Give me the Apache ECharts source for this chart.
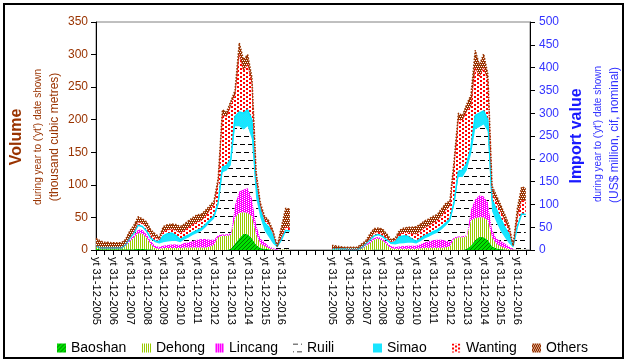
<!DOCTYPE html>
<html><head><meta charset="utf-8">
<script src="https://cdn.jsdelivr.net/npm/echarts@6/dist/echarts.min.js"></script>
<style>html,body{margin:0;padding:0;background:#fff}#c{width:628px;height:362px}</style>
</head><body><div id="c"></div>
<script>
// ---- DATA ----
const seriesNames = ['Baoshan','Dehong','Lincang','Ruili','Simao','Wanting','Others'];
// quarter-end periods of each panel (yt 31-12-2005 ... yt 30-06-2017)
const quarterEnds = ['31-12','31-03','30-06','30-09'];
const firstYear = 2005, pointsPerPanel = 47, gapCount = 9, tailCount = 1;
const leftTicks = [0,50,100,150,200,250,300,350];
const rightTicks = [0,50,100,150,200,250,300,350,400,450,500];

// Volume (thousand cubic metres), left panel
const volBaoshan = [2,1,1,1,1,1,1,1,1,1,2,2,1,1,0,0,0,0,0,0,0,0,0,0,0,0,0,0,0,0,0,0,2,10,18,25,24,18,8,3,2,1,0,0,0,0,0];
const volDehong  = [4,2,2,2,2,2,2,5,12,18,24,23,18,8,3,2,3,3,3,3,3,4,4,4,4,4,4,5,8,20,22,22,21,40,39,33,33,34,17,7,4,2,1,0,1,1,1];
const volLincang = [0,0,0,0,0,0,0,2,3,4,6,6,5,5,4,3,4,5,6,6,5,7,8,10,12,13,13,11,8,3,2,2,3,20,33,35,38,28,15,8,6,3,2,1,0,0,0];
const volRuili   = [0,0,0,0,0,0,0,0,2,3,6,5,5,4,5,5,5,5,5,5,4,5,7,9,10,12,18,26,32,45,95,98,104,120,100,92,95,90,40,32,18,14,7,3,15,29,28];
const volSimao   = [0,0,0,0,0,0,0,0,0,0,0,0,0,0,2,3,10,12,12,8,4,4,4,4,4,4,4,4,4,5,8,8,10,15,22,25,25,30,20,12,12,15,12,1,0,0,0];
const volWanting = [0,0,0,0,0,0,0,0,1,2,5,5,6,5,5,3,6,6,6,8,10,10,12,13,13,12,13,15,18,30,80,75,82,33,88,65,70,55,12,6,5,5,4,0,4,5,5];
const volOthers  = [12,11,9,9,8,8,8,8,10,10,8,7,8,8,6,4,8,8,8,9,10,10,10,10,11,10,9,7,5,7,8,7,6,7,18,17,15,10,8,4,5,5,4,1,15,29,29];

// Import value (US$ million, cif, nominal), right panel
const valBaoshan = [1,1,1,1,0,0,0,0,0,0,1,1,1,0,0,0,0,0,0,0,0,0,0,0,0,0,0,0,0,0,0,0,3,10,22,29,28,22,8,4,2,1,0,0,0,0,0];
const valDehong  = [2,2,1,1,1,1,1,3,8,15,22,24,20,12,4,3,3,3,3,3,3,4,5,5,5,5,5,6,8,25,28,28,27,55,48,43,44,43,20,10,6,4,2,1,1,1,1];
const valLincang = [0,0,0,0,0,0,0,2,3,4,4,4,4,5,5,4,5,6,7,7,7,9,12,14,17,18,18,15,10,3,2,2,3,25,42,48,46,40,17,12,12,10,6,2,0,0,0];
const valRuili   = [0,0,0,0,0,0,0,0,2,3,4,5,5,5,4,5,6,6,6,6,4,6,8,10,12,15,22,32,45,70,130,130,142,120,153,150,157,155,40,36,22,13,7,3,50,78,77];
const valSimao   = [0,0,0,0,0,0,0,0,0,0,0,0,0,0,2,6,15,16,14,8,5,6,6,6,6,6,6,6,5,8,12,15,15,15,30,30,30,25,25,28,28,22,20,2,0,0,0];
const valWanting = [0,0,0,0,0,0,0,0,0,3,6,6,6,5,3,3,6,7,8,12,16,16,18,18,20,20,24,28,28,80,113,110,115,90,105,80,95,85,15,15,15,15,10,1,20,30,30];
const valOthers  = [7,6,5,4,5,5,5,8,7,10,10,8,10,8,5,5,8,10,12,14,16,16,15,15,14,14,15,15,12,10,15,10,15,25,38,25,30,15,15,15,15,13,10,1,20,29,28];

// ---- build categories ----
const panelPeriods = [];
for (let k = 0; k < pointsPerPanel; k++) {
  const q = k % 4;
  const yr = firstYear + Math.floor((k + 3) / 4);
  panelPeriods.push('yt ' + quarterEnds[q] + '-' + yr);
}
const blanks = n => Array.from({length:n}, (_, i) => ' '.repeat(i + 1));
const categories = panelPeriods.concat(blanks(gapCount)).concat(panelPeriods.map(s => s + ' ')).concat(blanks(gapCount + tailCount).slice(gapCount));
const nulls = n => Array(n).fill(null);
const leftData = arr => arr.concat(nulls(categories.length - arr.length));
const rightData = arr => nulls(pointsPerPanel + gapCount).concat(arr).concat(nulls(tailCount));

// ---- patterns ----
function pat(w, h, bg, fg, rects) {
  const c = document.createElement('canvas'); c.width = w; c.height = h;
  const g = c.getContext('2d'); g.fillStyle = bg; g.fillRect(0, 0, w, h);
  g.fillStyle = fg; rects.forEach(r => g.fillRect(r[0], r[1], r[2] || 1, r[3] || 1));
  return {image: c, repeat: 'repeat'};
}
const patterns = {
  Baoshan: pat(4,4,'#00E000','#007A00',[[3,0],[2,1],[1,2],[0,3]]),
  Dehong: pat(2,1,'#FFFFFF','#99CC00',[[0,0]]),
  Lincang: pat(4,2,'#FF00FF','#FFFFFF',[[0,0],[2,1]]),
  Ruili: pat(8,16,'#FFFFFF','#000000',[[0,0,5,1],[4,8,4,1],[0,8,1,1]]),
  Simao: pat(2,2,'#33CCFF','#00FFFF',[[0,0],[1,1]]),
  Wanting: pat(6,4,'#FFFFFF','#FF0000',[[0,0,2,2],[3,2,2,2]]),
  Others: pat(4,4,'#993300','#FFFFFF',[[0,0],[2,0],[1,2],[3,2]])
};
const lineColors = {Baoshan:'#008000',Dehong:'#99CC00',Lincang:'#FF00FF',Ruili:'#000000',Simao:'#00E5FF',Wanting:'#FF0000',Others:'#993300'};
const lineStyles = {
  Simao: {width:1.5, color:'#00E5FF'},
  Wanting: {width:1, color:'#FF0000', type:'dotted'},
  Others: {width:1.5, color:'#993300', type:'dotted'}
};

const volSets = [volBaoshan,volDehong,volLincang,volRuili,volSimao,volWanting,volOthers];
const valSets = [valBaoshan,valDehong,valLincang,valRuili,valSimao,valWanting,valOthers];
const series = [];
seriesNames.forEach((n, k) => {
  const ls = lineStyles[n] || {width:0, opacity:0};
  series.push({name:n, type:'line', stack:'vol', yAxisIndex:0, data:leftData(volSets[k]),
    symbol:'none', color:lineColors[n], lineStyle:ls, areaStyle:{color:patterns[n], opacity:1}, animation:false});
});
seriesNames.forEach((n, k) => {
  const ls = lineStyles[n] || {width:0, opacity:0};
  series.push({name:n, type:'line', stack:'val', yAxisIndex:1, data:rightData(valSets[k]),
    symbol:'none', color:lineColors[n], lineStyle:ls, areaStyle:{color:patterns[n], opacity:1}, animation:false});
});

const legendLeft = {Baoshan:52, Dehong:137, Lincang:210, Ruili:288, Simao:368, Wanting:447, Others:527};
const legends = seriesNames.map(n => ({
  left: legendLeft[n], top: 336, itemWidth: 9, itemHeight: 9, icon: 'rect',
  textStyle: {fontSize: 14, color: '#000', fontFamily: 'Liberation Sans, Arial'},
  data: [{name: n, icon: 'rect', itemStyle: {color: patterns[n], borderWidth: 0}}]
}));

const font = 'Liberation Sans, Arial';
const chart = echarts.init(document.getElementById('c'), null, {renderer: 'canvas'});
chart.setOption({
  animation: false,
  backgroundColor: '#fff',
  grid: {left: 96, right: 98, top: 22, bottom: 112, show: true, borderColor: '#808080', borderWidth: 1},
  legend: legends,
  xAxis: {
    type: 'category', data: categories, boundaryGap: false,
    axisLine: {lineStyle: {color: '#000', width: 1}},
    axisTick: {show: true, length: 5, lineStyle: {color: '#000'}, interval: (i) => i % 2 === 0},
    axisLabel: {rotate: -90, fontSize: 11, color: '#000', fontFamily: font, margin: 7,
      interval: (i, v) => v.indexOf('31-12-') >= 0, formatter: v => v.trim()},
    splitLine: {show: false}
  },
  yAxis: [
    {type: 'value', min: leftTicks[0], max: leftTicks[leftTicks.length - 1], interval: 50, position: 'left',
      axisLine: {show: true, lineStyle: {color: '#000'}}, axisTick: {show: true, length: 5, lineStyle: {color: '#000'}},
      axisLabel: {fontSize: 12, color: '#993300', fontFamily: font, margin: 8}, splitLine: {show: false}},
    {type: 'value', min: rightTicks[0], max: rightTicks[rightTicks.length - 1], interval: 50, position: 'right',
      axisLine: {show: true, lineStyle: {color: '#000'}}, axisTick: {show: true, length: 5, lineStyle: {color: '#000'}},
      axisLabel: {fontSize: 12, color: '#3333FF', fontFamily: font, margin: 9}, splitLine: {show: false}}
  ],
  graphic: [
    {type: 'rect', shape: {x: 4, y: 4, width: 619, height: 354}, style: {fill: 'none', stroke: '#000', lineWidth: 2}, silent: true},
    {type: 'text', x: 17, y: 137, rotation: Math.PI / 2, style: {text: 'Volume', font: 'bold 16px ' + font, fill: '#993300', align: 'center', verticalAlign: 'middle'}},
    {type: 'text', x: 38, y: 137, rotation: Math.PI / 2, style: {text: "during year to ('yt') date shown", font: '10px ' + font, fill: '#993300', align: 'center', verticalAlign: 'middle'}},
    {type: 'text', x: 55, y: 137, rotation: Math.PI / 2, style: {text: '(thousand cubic metres)', font: '12px ' + font, fill: '#993300', align: 'center', verticalAlign: 'middle'}},
    {type: 'text', x: 577, y: 136, rotation: Math.PI / 2, style: {text: 'Import value', font: 'bold 16px ' + font, fill: '#1A1AFF', align: 'center', verticalAlign: 'middle'}},
    {type: 'text', x: 598, y: 134, rotation: Math.PI / 2, style: {text: "during year to ('yt') date shown", font: '10px ' + font, fill: '#3333FF', align: 'center', verticalAlign: 'middle'}},
    {type: 'text', x: 615, y: 135, rotation: Math.PI / 2, style: {text: '(US$ million, cif, nominal)', font: '12px ' + font, fill: '#3333FF', align: 'center', verticalAlign: 'middle'}}
  ],
  series: series
});
</script></body></html>
